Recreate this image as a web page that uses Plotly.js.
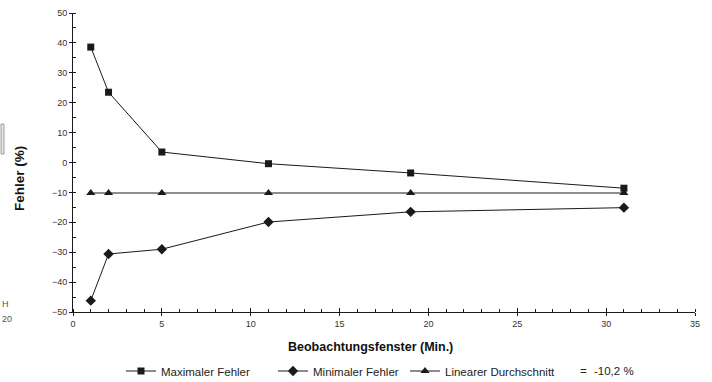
<!DOCTYPE html>
<html>
<head>
<meta charset="utf-8">
<script src="https://cdn.plot.ly/plotly-3.0.1.min.js"></script>
<style>html,body{margin:0;padding:0;background:#fff;}#chart{width:712px;height:382px;}</style>
</head>
<body>
<div id="chart"></div>
<script>
// ---- data ----
const windowMin = [1, 2, 5, 11, 19, 31];
const maxError = [38.6, 23.5, 3.5, -0.4, -3.5, -8.6];
const minError = [-46.2, -30.6, -29.0, -19.9, -16.5, -15.1];
const linAvg = [-10.2, -10.2, -10.2, -10.2, -10.2, -10.2];
const seriesNames = ['Maximaler Fehler', 'Minimaler Fehler', 'Linearer Durchschnitt'];
const avgLabel = '-10,2 %';
const xTitle = 'Beobachtungsfenster (Min.)';
const yTitle = 'Fehler (%)';

// ---- geometry helpers (plot area: x 73..695, y 13..312) ----
const W = 712, H = 382;
const L = 73, R = 695, T = 13, B = 312;
const cx = p => p / W;          // container coords
const cy = p => (H - p) / H;
const pxp = p => (p - L) / (R - L);   // paper coords
const pyp = p => (B - p) / (B - T);

const ink = '#1a1a1a';
const legFont = {family: 'Liberation Sans, Arial, sans-serif', size: 11.5, color: '#222'};
const smallFont = {family: 'Liberation Sans, Arial, sans-serif', size: 9, color: '#555'};

function tr(y, name, symbol, size, leg) {
  return {
    x: windowMin, y: y, name: name, type: 'scatter', mode: 'lines+markers',
    line: {color: ink, width: 1},
    marker: {symbol: symbol, size: size, color: ink},
    legend: leg, cliponaxis: false
  };
}

const data = [
  tr(maxError, seriesNames[0], 'square', 7, 'legend'),
  tr(minError, seriesNames[1], 'diamond', 8, 'legend2'),
  tr(linAvg, seriesNames[2], 'triangle-up', 8, 'legend3'),
  {x: [], y: [], xaxis: 'x2', yaxis: 'y2', showlegend: false, type: 'scatter', mode: 'markers', hoverinfo: 'skip'}
];

const tickFont = {family: 'Liberation Sans, Arial, sans-serif', size: 9, color: '#333'};
const titleFont = {family: 'Liberation Sans, Arial, sans-serif', size: 12.5, color: '#111'};
const yTitleFont = {family: 'Liberation Sans, Arial, sans-serif', size: 13.5, color: '#111'};

function legendAt(xp) {
  return {orientation: 'h', xref: 'container', yref: 'container',
          x: cx(xp), xanchor: 'left', y: cy(371), yanchor: 'middle',
          font: legFont, bgcolor: 'rgba(0,0,0,0)', borderwidth: 0};
}

function ann(text, xp, yp, xanchor, font, angle) {
  return {text: text, xref: 'paper', yref: 'paper',
          x: pxp(xp), y: pyp(yp),
          xanchor: xanchor, yanchor: 'middle', showarrow: false, font: font, textangle: angle || 0};
}

const layout = {
  width: W, height: H,
  margin: {l: L, r: W - R, t: T, b: H - B, pad: 0, autoexpand: false},
  paper_bgcolor: '#fff', plot_bgcolor: '#fff',
  showlegend: true,
  legend: legendAt(121),
  legend2: legendAt(273),
  legend3: legendAt(405),
  xaxis: {
    range: [0, 35], dtick: 5, tick0: 0, showgrid: false, zeroline: false,
    showline: true, linecolor: ink, linewidth: 1,
    ticks: 'outside', ticklen: 3, tickcolor: ink, tickwidth: 1,
    minor: {dtick: 1, ticks: 'inside', ticklen: 3, tickcolor: ink, showgrid: false},
    tickfont: tickFont, fixedrange: true, automargin: false
  },
  yaxis: {
    range: [-50, 50], dtick: 10, tick0: 0, showgrid: false, zeroline: false,
    showline: true, linecolor: ink, linewidth: 1,
    ticks: 'outside', ticklen: 3, tickcolor: ink, tickwidth: 1,
    minor: {dtick: 5, ticks: 'inside', ticklen: 3, tickcolor: ink, showgrid: false},
    tickfont: tickFont, fixedrange: true, automargin: false
  },
  xaxis2: {
    overlaying: 'x', anchor: 'y2', side: 'bottom', range: [0, 35], dtick: 5, tick0: 0,
    showgrid: false, zeroline: false, showline: false, showticklabels: false,
    ticks: 'inside', ticklen: 4, tickcolor: ink, tickwidth: 1
  },
  yaxis2: {
    overlaying: 'y', anchor: 'x2', side: 'left', range: [-50, 50], dtick: 10, tick0: 0,
    showgrid: false, zeroline: false, showline: false, showticklabels: false,
    ticks: 'inside', ticklen: 3, tickcolor: ink, tickwidth: 1
  },
  annotations: [
    ann('<b>' + xTitle + '</b>', 370, 347, 'center', titleFont),
    ann('<b>' + yTitle + '</b>', 19, 178, 'center', yTitleFont, -90),
    ann('=', 578, 371, 'left', legFont),
    ann(avgLabel, 592, 371, 'left', legFont),
    ann('H', 0, 304, 'left', smallFont),
    ann('20', 0, 319, 'left', smallFont)
  ],
  shapes: [
    {type: 'rect', xref: 'paper', yref: 'paper',
     x0: pxp(1), x1: pxp(4), y0: pyp(154), y1: pyp(124),
     fillcolor: '#e6e6e6', line: {color: '#888', width: 0.8}}
  ]
};

Plotly.newPlot('chart', data, layout, {staticPlot: true, displayModeBar: false});
</script>
</body>
</html>
